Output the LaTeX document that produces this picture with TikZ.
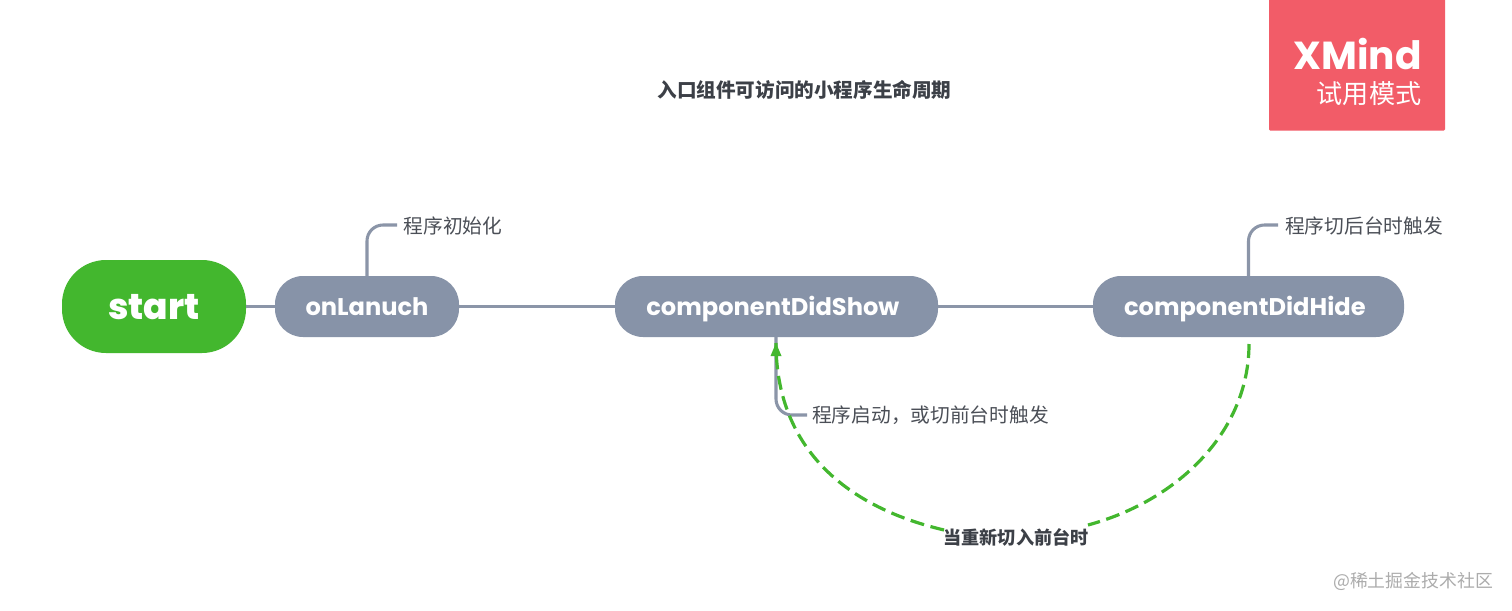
\documentclass[tikz,border=0pt]{standalone}
\usepackage{fontspec}
\setmainfont{Poppins}
\newfontfamily\cjk{Noto Sans CJK SC}
\newfontfamily\poppins{Poppins}
\newfontfamily\poppinsx{Poppins ExtraBold}
\usetikzlibrary{arrows.meta}
\definecolor{topicgray}{HTML}{8793A8}
\definecolor{linegray}{HTML}{8B95A8}
\definecolor{mygreen}{HTML}{43B72E}
\definecolor{txt}{HTML}{4B4F57}
\definecolor{dark}{HTML}{3C4047}
\definecolor{brand}{HTML}{F25C68}
\tikzset{
  x=0.75pt,y=-0.75pt,
  topic/.style={fill=topicgray,text=white,rounded corners=21pt,minimum height=45.75pt,inner sep=0pt,text height=13pt,text depth=0.2pt,font=\poppins\fontsize{18.1pt}{20pt}\selectfont\bfseries},
  rootnode/.style={fill=mygreen,text=white,rounded corners=33pt,minimum width=138pt,minimum height=69.75pt,inner sep=0pt,text height=18.8pt,text depth=0pt,font=\poppinsx\fontsize{27pt}{30pt}\selectfont},
  note/.style={text=txt,inner sep=0pt,font=\cjk\fontsize{14.8pt}{16pt}\selectfont},
  boldnote/.style={text=dark,inner sep=0pt,font=\cjk\fontsize{14.7pt}{16pt}\selectfont\bfseries},
  relnote/.style={boldnote,font=\cjk\fontsize{13.6pt}{15pt}\selectfont\bfseries},
  link/.style={draw=linegray,line width=2.3pt},
  relation/.style={draw=mygreen,line width=2.4pt,dash pattern=on 10.5pt off 5pt},
}
\begin{document}
\begin{tikzpicture}
\useasboundingbox (0,0) rectangle (1512,610);
\fill[white] (0,0) rectangle (1512,610);
% trial badge
\node[fill=brand,minimum width=132pt,minimum height=100pt,inner sep=0pt,rounded corners=1pt] (badge) at (1357,64) {};
\node[text=white,inner sep=0pt,font=\poppins\fontsize{29.3pt}{30pt}\selectfont\bfseries] (xmind) at (1357.5,54) {XMind};
\node[text=white,inner sep=0pt,font=\cjk\fontsize{19.6pt}{21pt}\selectfont] (trial) at (1369,94) {试用模式};
% title
\node[boldnote] (title) at (804.5,90) {入口组件可访问的小程序生命周期};
% topics
\node[rootnode] (start) at (154,306.5) {start};
\node[topic,minimum width=138pt] (onl) at (367,306.5) {onLanuch};
\node[topic,minimum width=242.25pt] (show) at (776.5,306.5) {componentDidShow\hspace{5.5pt}\mbox{}};
\node[topic,minimum width=233.25pt] (hide) at (1248.5,306.5) {componentDidHide\hspace{5.5pt}\mbox{}};
% notes
\node[note] (n1) at (453,226) {程序初始化};
\node[note] (n2) at (930.5,415) {程序启动，或切前台时触发};
\node[note] (n3) at (1364,226) {程序切后台时触发};
\node[relnote] (rel) at (1016,537) {当重新切入前台时};
\node[text=gray!65,inner sep=0pt,font=\cjk\fontsize{13.4pt}{15pt}\selectfont] (mark) at (1413,581) {@稀土掘金技术社区};
% named ends
\coordinate (b1) at (367,276);
\coordinate (c1) at (397,225);
\coordinate (b2) at (776,337);
\coordinate (c2) at (807,415);
\coordinate (b3) at (1248.5,276);
\coordinate (c3) at (1278,225);
\coordinate (relA) at (1249,344);
\coordinate (relB) at (1088,525);
\coordinate (relC) at (944,530);
\coordinate (relD) at (776,343);
% links
\draw[link] (start.east) -- (onl.west);
\draw[link] (onl.east) -- (show.west);
\draw[link] (show.east) -- (hide.west);
\draw[link,rounded corners=12pt] (b1) |- (c1);
\draw[link,rounded corners=12pt] (b2) |- (c2);
\draw[link,rounded corners=12pt] (b3) |- (c3);
% relation
\draw[relation] (relA) .. controls (1249,430) and (1180,500) .. (relB);
\draw[relation] (relC) .. controls (842,506) and (776,445) .. (relD);
\fill[mygreen] (776,343) -- (770.5,356) -- (781.5,356) -- cycle;
\end{tikzpicture}
\end{document}
